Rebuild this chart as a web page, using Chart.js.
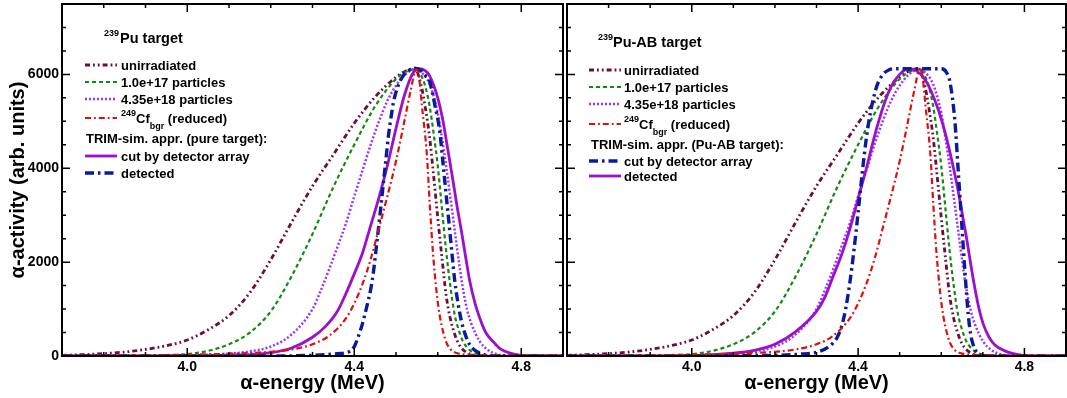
<!DOCTYPE html>
<html>
<head>
<meta charset="utf-8">
<script src="https://cdn.jsdelivr.net/npm/chart.js@4"></script>
<style>
  html, body { margin: 0; padding: 0; background: #fff; }
  #wrap { position: relative; width: 1067px; height: 398px; overflow: hidden; }
  canvas { position: absolute; top: 0; }
  #puChart { left: 0; }
  #abChart { left: 565px; }
</style>
</head>
<body>
<div id="wrap">
  <canvas id="puChart" width="565" height="398"></canvas>
  <canvas id="abChart" width="502" height="398"></canvas>
</div>
<script>
// axis ticks
const energyTicks = [4.0, 4.4, 4.8];
const activityTicks = [0, 2000, 4000, 6000];

// measured spectra, [energy MeV, activity]
const unirradiated = [[3.70,15],[3.75,30],[3.80,50],[3.85,85],[3.90,140],[3.95,220],[4.00,340],[4.05,560],[4.10,860],[4.15,1350],[4.20,2050],[4.25,2850],[4.30,3620],[4.35,4290],[4.40,4960],[4.45,5520],[4.50,5940],[4.53,6100],[4.545,6120],[4.56,5780],[4.57,5300],[4.58,4700],[4.59,3850],[4.60,2950],[4.61,2100],[4.62,1300],[4.63,800],[4.64,480],[4.65,260],[4.66,140],[4.68,30],[4.70,5],[4.75,0],[4.90,0]];
const fluence1e17 = [[3.70,0],[3.80,3],[3.90,10],[4.00,40],[4.05,110],[4.10,250],[4.15,500],[4.20,950],[4.25,1700],[4.30,2600],[4.35,3600],[4.40,4500],[4.45,5320],[4.50,5900],[4.53,6080],[4.55,6110],[4.56,5980],[4.57,5750],[4.58,5350],[4.59,4750],[4.60,4050],[4.61,3150],[4.62,2250],[4.63,1500],[4.64,900],[4.65,560],[4.66,320],[4.68,100],[4.70,30],[4.72,5],[4.75,0],[4.90,0]];
const fluence435e18 = [[3.70,0],[3.90,0],[4.00,10],[4.10,50],[4.15,100],[4.20,200],[4.25,460],[4.30,1000],[4.32,1400],[4.34,1850],[4.36,2330],[4.38,2820],[4.40,3400],[4.42,3960],[4.44,4520],[4.46,5020],[4.48,5450],[4.50,5760],[4.52,5980],[4.545,6110],[4.56,6050],[4.58,5800],[4.60,5180],[4.61,4650],[4.62,4050],[4.63,3400],[4.64,2720],[4.65,2050],[4.66,1450],[4.67,1000],[4.68,700],[4.70,320],[4.72,130],[4.74,45],[4.76,10],[4.80,0],[4.90,0]];
const cfBackground = [[3.70,10],[3.80,12],[3.90,18],[4.00,28],[4.10,48],[4.15,64],[4.20,90],[4.25,140],[4.30,250],[4.34,430],[4.38,800],[4.40,1120],[4.42,1540],[4.44,2080],[4.46,2750],[4.48,3430],[4.50,4150],[4.52,5000],[4.535,5650],[4.548,6100],[4.555,5950],[4.562,5340],[4.574,4277],[4.581,3213],[4.589,2150],[4.601,1085],[4.617,380],[4.63,150],[4.645,64],[4.67,30],[4.70,20],[4.80,15],[4.90,15]];

// TRIM simulation, pure target
const pureCut = [[3.70,0],[3.90,2],[4.00,5],[4.10,15],[4.15,30],[4.20,70],[4.25,170],[4.30,400],[4.33,620],[4.36,960],[4.38,1330],[4.40,1750],[4.42,2200],[4.44,2800],[4.46,3400],[4.48,4080],[4.50,4850],[4.52,5550],[4.54,6020],[4.555,6120],[4.57,6080],[4.58,5980],[4.60,5500],[4.613,4985],[4.625,4350],[4.637,3709],[4.647,3150],[4.657,2645],[4.667,2100],[4.677,1581],[4.69,1100],[4.701,800],[4.715,500],[4.733,304],[4.75,150],[4.773,64],[4.80,15],[4.83,0],[4.90,0]];
const pureDetected = [[3.70,0],[4.20,0],[4.30,15],[4.36,50],[4.39,100],[4.40,200],[4.41,420],[4.42,700],[4.43,1050],[4.44,1450],[4.446,1794],[4.452,2250],[4.458,2716],[4.464,3200],[4.470,3709],[4.476,4200],[4.482,4702],[4.488,5080],[4.494,5411],[4.506,5780],[4.518,5979],[4.53,6080],[4.545,6130],[4.56,6080],[4.57,5980],[4.581,5836],[4.593,5350],[4.605,4773],[4.611,4250],[4.617,3709],[4.623,3180],[4.629,2645],[4.635,2100],[4.641,1581],[4.649,1100],[4.657,730],[4.667,430],[4.677,234],[4.689,120],[4.701,64],[4.72,10],[4.75,0],[4.90,0]];

// TRIM simulation, Pu-AB target
const abCut = [[3.70,0],[4.00,0],[4.10,5],[4.20,15],[4.26,40],[4.30,80],[4.33,200],[4.35,400],[4.36,620],[4.37,1000],[4.38,1550],[4.39,2250],[4.40,3050],[4.41,3900],[4.42,4650],[4.43,5200],[4.445,5750],[4.46,6000],[4.475,6100],[4.49,6120],[4.60,6120],[4.612,6050],[4.621,5836],[4.633,4985],[4.641,3922],[4.649,2858],[4.657,1794],[4.665,872],[4.671,450],[4.677,234],[4.685,80],[4.693,20],[4.72,0],[4.90,0]];
const abDetected = [[3.70,0],[3.90,3],[4.00,10],[4.10,60],[4.15,120],[4.20,250],[4.25,520],[4.30,950],[4.32,1250],[4.34,1700],[4.36,2150],[4.38,2700],[4.40,3350],[4.42,4000],[4.44,4700],[4.46,5300],[4.48,5750],[4.50,6000],[4.52,6120],[4.54,6080],[4.56,5900],[4.58,5550],[4.60,5050],[4.613,4631],[4.627,4100],[4.641,3500],[4.651,3000],[4.661,2504],[4.671,1950],[4.681,1440],[4.691,1000],[4.701,680],[4.715,400],[4.729,234],[4.75,120],[4.773,50],[4.80,10],[4.83,0],[4.90,0]];

const FONT = "'Liberation Sans', Arial, Helvetica, sans-serif";

const styles = {
  unirr: { color: "#6b0d3d", width: 2.8, dash: [5, 3, 1.8, 3, 1.8, 3] },
  f17:   { color: "#108a10", width: 2.2, dash: [4, 3] },
  f18:   { color: "#9a33ff", width: 2.5, dash: [2, 2] },
  cf:    { color: "#dc1010", width: 2.2, dash: [6, 3, 1.8, 3] },
  solid: { color: "#9b10c8", width: 2.8, dash: [] },
  blue:  { color: "#0a1a9e", width: 3.4, dash: [9, 4, 2.5, 4] }
};

function lineSet(label, points, st) {
  return {
    label,
    data: points.map(p => ({ x: p[0], y: p[1] })),
    borderColor: st.color,
    borderWidth: st.width,
    borderDash: st.dash,
    borderCapStyle: "butt",
    pointRadius: 0,
    fill: false,
    cubicInterpolationMode: "monotone"
  };
}

// frame with inward ticks on all four sides
const frameTicks = {
  id: "frameTicks",
  afterDatasetsDraw(chart) {
    const { ctx, chartArea: a, scales: { x, y } } = chart;
    ctx.save();
    ctx.strokeStyle = "#000";
    ctx.setLineDash([]);
    ctx.lineWidth = 1.5;
    ctx.beginPath();
    for (let k = 38; k <= 49; k++) {
      const px = x.getPixelForValue(k / 10);
      const len = k % 4 === 0 ? 8 : 4;
      ctx.moveTo(px, a.bottom); ctx.lineTo(px, a.bottom - len);
      ctx.moveTo(px, a.top); ctx.lineTo(px, a.top + len);
    }
    for (let v = 500; v <= 7000; v += 500) {
      const py = y.getPixelForValue(v);
      const len = v % 2000 === 0 ? 8 : 4;
      ctx.moveTo(a.left, py); ctx.lineTo(a.left + len, py);
      ctx.moveTo(a.right, py); ctx.lineTo(a.right - len, py);
    }
    ctx.stroke();
    ctx.lineWidth = 2;
    ctx.strokeRect(a.left, a.top, a.right - a.left, a.bottom - a.top);
    ctx.restore();
  }
};

function panelLegend(cfg) {
  return {
    id: "panelLegend",
    afterDraw(chart) {
      const ctx = chart.ctx;
      ctx.save();
      ctx.fillStyle = "#000";
      ctx.textBaseline = "alphabetic";
      ctx.font = `bold 9px ${FONT}`;
      ctx.fillText(cfg.titleSup, cfg.supX, cfg.titleY - 7);
      ctx.font = `bold 14.5px ${FONT}`;
      ctx.fillText(cfg.title, cfg.titleX, cfg.titleY);

      cfg.rows.forEach(r => {
        if (r.style) {
          ctx.strokeStyle = r.style.color;
          ctx.lineWidth = r.style.width;
          ctx.setLineDash(r.style.dash);
          ctx.beginPath();
          ctx.moveTo(cfg.x0, r.y);
          ctx.lineTo(cfg.x1, r.y);
          ctx.stroke();
        }
        let tx = r.style ? cfg.tx : cfg.hx;
        const base = r.y + 4.5;
        r.parts.forEach(([t, kind]) => {
          if (kind === "sup") { ctx.font = `bold 9px ${FONT}`; ctx.fillText(t, tx, base - 6.5); }
          else if (kind === "sub") { ctx.font = `bold 9px ${FONT}`; ctx.fillText(t, tx, base + 6); }
          else { ctx.font = `bold 13px ${FONT}`; ctx.fillText(t, tx, base); }
          tx += ctx.measureText(t).width;
        });
      });
      ctx.restore();
    }
  };
}

function legendRows(ys, header, cutStyle, detStyle) {
  return [
    { y: ys[0], style: styles.unirr, parts: [["unirradiated"]] },
    { y: ys[1], style: styles.f17, parts: [["1.0e+17 particles"]] },
    { y: ys[2], style: styles.f18, parts: [["4.35e+18 particles"]] },
    { y: ys[3], style: styles.cf, parts: [["249", "sup"], ["Cf"], ["bgr", "sub"], [" (reduced)"]] },
    { y: ys[4], style: null, parts: [[header]] },
    { y: ys[5], style: cutStyle, parts: [["cut by detector array"]] },
    { y: ys[6], style: detStyle, parts: [["detected"]] }
  ];
}

function xScale() {
  return {
    type: "linear", min: 3.7, max: 4.9,
    afterBuildTicks: s => { s.ticks = energyTicks.map(v => ({ value: v })); },
    afterFit: s => { s.height = 42; s.paddingLeft = 0; s.paddingRight = 0; },
    grid: { display: false, drawTicks: false },
    border: { display: false },
    ticks: {
      autoSkip: false, maxRotation: 0, padding: 3, color: "#000",
      font: { family: FONT, size: 14, weight: "bold" },
      callback: v => Number(v).toFixed(1)
    },
    title: {
      display: true, text: "α-energy (MeV)", color: "#000",
      font: { family: FONT, size: 20, weight: "bold" },
      padding: { top: 0, bottom: 3 }
    }
  };
}

function yScale(showLabels) {
  return {
    type: "linear", min: 0, max: 7500,
    display: showLabels,
    afterBuildTicks: s => { s.ticks = activityTicks.map(v => ({ value: v })); },
    afterFit: s => { s.width = showLabels ? 62 : 0; s.paddingTop = 0; s.paddingBottom = 0; },
    grid: { display: false, drawTicks: false },
    border: { display: false },
    ticks: {
      padding: 3, color: "#000",
      font: { family: FONT, size: 14, weight: "bold" },
      callback: v => String(v)
    },
    title: {
      display: true, text: "α-activity (arb. units)", color: "#000",
      font: { family: FONT, size: 20, weight: "bold" },
      padding: { top: 6, bottom: 0 }
    }
  };
}

function makeChart(id, sims, padding, legendCfg) {
  return new Chart(document.getElementById(id), {
    type: "line",
    data: {
      datasets: [
        lineSet("249Cf bgr (reduced)", cfBackground, styles.cf),
        ...sims,
        lineSet("4.35e+18 particles", fluence435e18, styles.f18),
        lineSet("1.0e+17 particles", fluence1e17, styles.f17),
        lineSet("unirradiated", unirradiated, styles.unirr)
      ]
    },
    options: {
      responsive: false,
      animation: false,
      layout: { padding },
      plugins: { legend: { display: false }, tooltip: { enabled: false } },
      scales: { x: xScale(), y: yScale(id === "puChart") }
    },
    plugins: [frameTicks, panelLegend(legendCfg)]
  });
}

makeChart("puChart",
  [lineSet("detected", pureDetected, styles.blue), lineSet("cut by detector array", pureCut, styles.solid)],
  { top: 4, right: 2, left: 0, bottom: 0 },
  {
    titleSup: "239", title: "Pu target", supX: 104, titleX: 120, titleY: 43,
    x0: 85, x1: 117, tx: 121, hx: 86,
    rows: legendRows([65, 82, 99, 118, 138, 156, 173], "TRIM-sim. appr. (pure target):", styles.solid, styles.blue)
  });

makeChart("abChart",
  [lineSet("cut by detector array", abCut, styles.blue), lineSet("detected", abDetected, styles.solid)],
  { top: 4, right: 1, left: 2, bottom: 0 },
  {
    titleSup: "239", title: "Pu-AB target", supX: 33, titleX: 48, titleY: 47,
    x0: 24, x1: 56, tx: 59, hx: 26,
    rows: legendRows([70, 87, 104, 124, 144, 161, 176], "TRIM-sim. appr. (Pu-AB target):", styles.blue, styles.solid)
  });
</script>
</body>
</html>
